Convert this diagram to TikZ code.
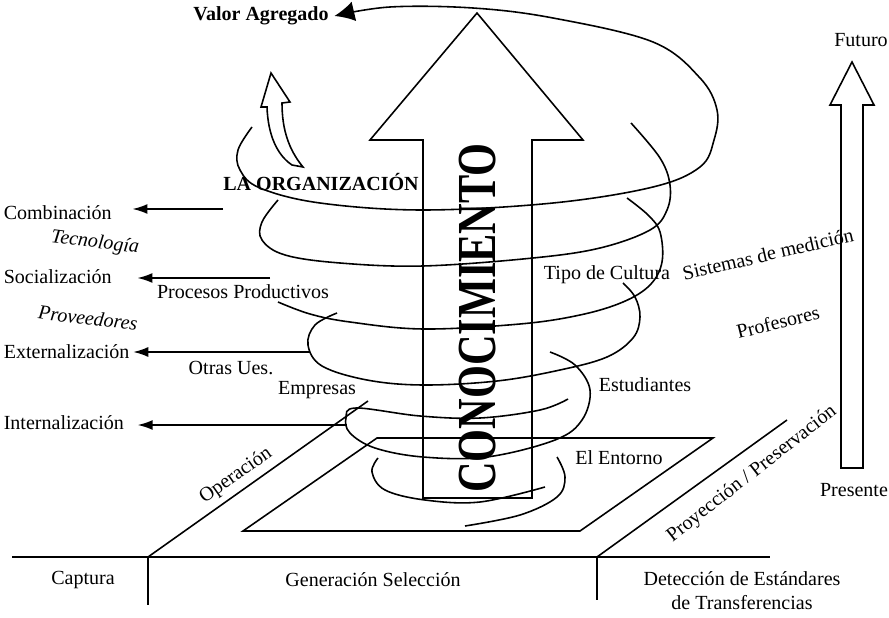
\documentclass[tikz,border=0pt]{standalone}
\usepackage{fontspec}
\usepackage{graphicx}
\setmainfont{Liberation Serif}
\usetikzlibrary{arrows.meta}

\tikzset{
  lbl/.style={font=\fontsize{11.4}{13.7}\selectfont, inner sep=0pt},
  blbl/.style={lbl, font=\fontsize{11.4}{13.7}\selectfont\bfseries},
  ilbl/.style={lbl, font=\fontsize{11.4}{13.7}\selectfont\itshape},
  coil/.style={smooth, tension=0.6},
}

\begin{document}
\begin{tikzpicture}[x=0.02cm, y=-0.02cm, line width=0.9pt, >={Latex[length=3mm,width=2mm]}]
    \useasboundingbox (0,0) rectangle (889,618);

    % ground and the two slanted edges
    \draw[line width=1.1pt] (12,557) -- (770,557);
    \draw (148,557) -- (148,605);
    \draw (597,557) -- (597,600);
    \draw (148,557) -- (368,401);
    \draw (597,557) -- (787,420);
    \draw (243,531) -- (580,531) -- (713,438) -- (377,438) -- cycle;

    \node[lbl] (cap) at (83,580) {Captura};
    \node[lbl] (gen) at (373,580) {Generación Selección};
    \node[lbl, align=center] (det) at (742,591) {Detección de Estándares\\de Transferencias};
    \node[lbl, rotate=35] (ope) at (236,476) {Operación};
    \node[lbl, rotate=38] (pro) at (752,474) {Proyección / Preservación};

    % big arrow
    \draw (423,498) -- (423,140) -- (370,140) -- (477,13) -- (583,140) -- (532,140) -- (532,498) -- cycle;
    \node[rotate=90, inner sep=0pt, font=\fontsize{31.3}{32}\selectfont\bfseries] (con) at (478,318)
        {\scalebox{0.77}[1]{CONOCIMIENTO}};

    % time arrow
    \draw (841,468) -- (841,105) -- (830,105) -- (852,62) -- (874,105) -- (863,105) -- (863,468) -- cycle;
    \node[lbl] (fut) at (861,40) {Futuro};
    \node[lbl] (pre) at (854,490) {Presente};

    % small hollow arrow
    \draw (292,165) -- (303,167) .. controls (289,150) and (282,130) .. (282,103)
        -- (290,102) -- (271,73) -- (261,107) -- (267,107)
        .. controls (268,135) and (277,155) .. (292,165) -- cycle;

    % labels
    \node[blbl] (valor) at (261,16) {Valor Agregado};
    \node[blbl] (org) at (321,182) {LA ORGANIZACIÓN};
    \node[lbl, anchor=west] (comb) at (3,213) {Combinación};
    \node[ilbl, rotate=-7] (tec) at (95,243) {Tecnología};
    \node[lbl, anchor=west] (soc) at (3,277) {Socialización};
    \node[lbl] (proc) at (243,292) {Procesos Productivos};
    \node[ilbl, rotate=-7] (prov) at (88,318) {Proveedores};
    \node[lbl, anchor=west] (ext) at (3,352) {Externalización};
    \node[lbl] (otr) at (231,368) {Otras Ues.};
    \node[lbl] (emp) at (317,390) {Empresas};
    \node[lbl, anchor=west] (int) at (3,423) {Internalización};
    \node[lbl] (tipo) at (607,275) {Tipo de Cultura};
    \node[lbl, rotate=13] (sis) at (768,254) {Sistemas de medición};
    \node[lbl, rotate=14] (prof) at (778,322) {Profesores};
    \node[lbl] (est) at (645,385) {Estudiantes};
    \node[lbl] (ent) at (619,458) {El Entorno};

    \coordinate (c1) at (223,209);
    \coordinate (c2) at (270,278);
    \coordinate (c3) at (310,352);
    \coordinate (c4) at (347,425);
    \draw[->] (c1) -- ([xshift=4mm]comb.east |- c1);
    \draw[->] (c2) -- ([xshift=5mm]soc.east |- c2);
    \draw[->] (c3) -- ([xshift=0.6mm]ext.east |- c3);
    \draw[->] (c4) -- ([xshift=2.6mm]int.east |- c4);

    % the coil
    \draw[-{Latex[length=4mm,width=4mm]}] plot[coil] coordinates {(252,127) (238,150) (240,170) (260,188)
        (320,203) (423,210) (553,203) (653,187) (700,167) (714,140) (717,110) (700,78) (653,42)
        (553,18) (473,8) (390,7) ([xshift=1mm]valor.east)};
    \draw plot[coil] coordinates {(278,200) (262,222) (262,240) (285,255) (340,263) (423,266)
        (533,258) (600,248) (650,230) (667,210) (670,185) (660,158) (631,123)};
    \draw plot[coil] coordinates {(278,302) (310,314) (350,322) (423,329) (520,324) (580,315)
        (623,302) (650,285) (662,262) (660,232) (648,215) (627,198)};
    \draw plot[coil] coordinates {(337,313) (315,325) (308,345) (322,366) (367,380) (423,385)
        (497,381) (560,370) (607,357) (633,338) (640,317) (635,297) (623,283)};
    \draw plot[coil] coordinates {(550,352) (575,365) (590,390) (582,420) (555,440) (487,457)
        (423,457) (375,448) (350,433) (346,418) (356,408) (420,416) (480,418) (540,410) (568,399)};
    \draw plot[coil] coordinates {(378,458) (372,472) (385,490) (425,500) (480,502) (545,487)};
    \draw plot[coil] coordinates {(557,457) (565,477) (557,497) (520,515) (465,526)};
\end{tikzpicture}
\end{document}
